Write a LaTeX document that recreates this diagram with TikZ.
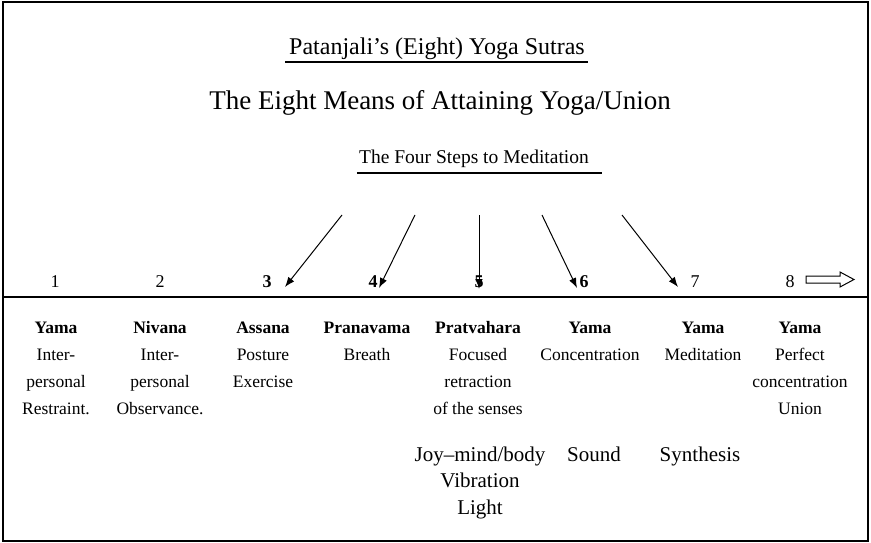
\documentclass[tikz,border=0pt]{standalone}
\usepackage{fontspec}
\setmainfont{Liberation Serif}
\usetikzlibrary{arrows.meta}

\begin{document}
\begin{tikzpicture}[x=1pt, y=-1pt,
			num/.style = {anchor=base, inner sep=0pt, font=\fontsize{18}{18}\selectfont},
			boldnum/.style = {num, font=\fontsize{18}{18}\selectfont\bfseries},
			column/.style = {anchor=base, align=center, inner sep=0pt, font=\fontsize{17.5}{27}\selectfont},
			extra/.style = {anchor=base, align=center, inner sep=0pt, font=\fontsize{21}{26.5}\selectfont},
			pointer/.style = {-{Latex[length=10pt, width=7.5pt]}, line width=1pt},
			rule/.style = {line width=1.8pt}]

			\useasboundingbox (0,0) rectangle (871,543);

			% draw frame and dividing line
			\draw [line width=2.5pt] (3,2) rectangle (868,541);
			\draw [rule] (3,297) -- (868,297);

			% headings
			\node [anchor=base, inner sep=0pt, font=\fontsize{24}{24}\selectfont] (title) at (437,55) {Patanjali’s (Eight) Yoga Sutras};
			\draw [rule] ([shift={(-4,7)}]title.base west) -- ([shift={(3,7)}]title.base east);
			\node [anchor=base, inner sep=0pt, font=\fontsize{27}{27}\selectfont] (means) at (440,110) {The Eight Means of Attaining Yoga/Union};
			\node [anchor=base, inner sep=0pt, font=\fontsize{19.5}{19.5}\selectfont] (steps) at (474,163) {The Four Steps to Meditation};
			\draw [rule] ([shift={(-2,10)}]steps.base west) -- ([shift={(13,10)}]steps.base east);

			% the eight numbers
			\node [num] (n1) at (55,287) {1};
			\node [num] (n2) at (160,287) {2};
			\node [boldnum] (n3) at (267,287) {3};
			\node [boldnum] (n4) at (373,287) {4};
			\node [boldnum] (n5) at (479,287) {5};
			\node [boldnum] (n6) at (584,287) {6};
			\node [num] (n7) at (695,287) {7};
			\node [num] (n8) at (790,287) {8};

			% the four steps pointing down
			\coordinate (s3) at (342,215); \coordinate (t3) at (285,287);
			\coordinate (s4) at (415,215); \coordinate (t4) at (379,288);
			\coordinate (s5) at (479,215); \coordinate (t5) at (479,289);
			\coordinate (s6) at (542,215); \coordinate (t6) at (577,288);
			\coordinate (s7) at (622,215); \coordinate (t7) at (678,287);
			\draw [pointer] (s3) -- (t3);
			\draw [pointer] (s4) -- (t4);
			\draw [pointer] (s5) -- (t5);
			\draw [pointer] (s6) -- (t6);
			\draw [pointer] (s7) -- (t7);

			% hollow arrow after 8
			\draw [line width=1pt] (806,276) -- (840,276) -- (840,272) -- (854,279.5) -- (840,287) -- (840,283) -- (806,283) -- cycle;

			% the eight means (base is the last line)
			\node [column] (c1) at (56,414) {\textbf{Yama}\\Inter-\\personal\\Restraint.};
			\node [column] (c2) at (160,414) {\textbf{Nivana}\\Inter-\\personal\\Observance.};
			\node [column] (c3) at (263,387) {\textbf{Assana}\\Posture\\Exercise};
			\node [column] (c4) at (367,360) {\textbf{Pranavama}\\Breath};
			\node [column] (c5) at (478,414) {\textbf{Pratvahara}\\Focused\\retraction\\of the senses};
			\node [column] (c6) at (590,360) {\textbf{Yama}\\Concentration};
			\node [column] (c7) at (703,360) {\textbf{Yama}\\Meditation};
			\node [column] (c8) at (800,414) {\textbf{Yama}\\Perfect\\concentration\\Union};

			% what they lead to
			\node [extra] (e5) at (480,514) {Joy–mind/body\\Vibration\\Light};
			\node [extra] (e6) at (594,461) {Sound};
			\node [extra] (e7) at (700,461) {Synthesis};
		\end{tikzpicture}
\end{document}
